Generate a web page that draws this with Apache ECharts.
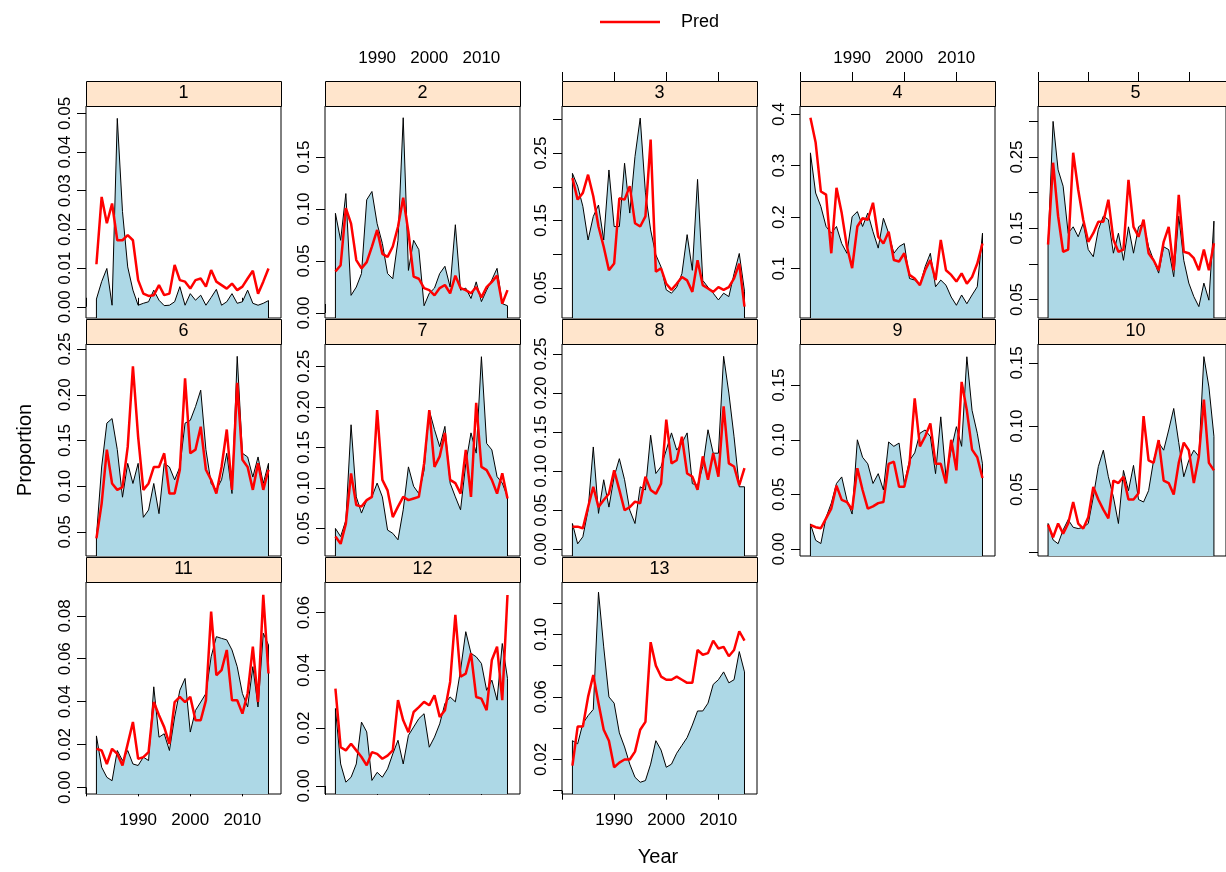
<!DOCTYPE html>
<html>
<head>
<meta charset="utf-8">
<script src="https://cdn.jsdelivr.net/npm/echarts@6/dist/echarts.min.js"></script>
<style>
  html, body { margin: 0; padding: 0; background: #fff; }
  #main { width: 1226px; height: 872px; }
</style>
</head>
<body>
<div id="main"></div>
<script>
var years = [1982, 1983, 1984, 1985, 1986, 1987, 1988, 1989, 1990, 1991, 1992, 1993, 1994, 1995, 1996, 1997, 1998,
  1999, 2000, 2001, 2002, 2003, 2004, 2005, 2006, 2007, 2008, 2009, 2010, 2011, 2012, 2013, 2014, 2015];

var xTicks = [1980, 1990, 2000, 2010];
var xLabels = [1990, 2000, 2010];

// observed proportion (filled) and predicted (red) per panel
var obs1 = [0.002, 0.0065, 0.0099, 0.0004, 0.0487, 0.0246, 0.0103, 0.0043, 0.0004, 0.0009, 0.0013, 0.0043, 0.0017, 0.0003, 0.0004, 0.0013, 0.0052, 0.0004, 0.0034, 0.0017, 0.003, 0.0004, 0.0024, 0.0045, 0.0004, 0.0013, 0.0034, 0.0009, 0.0013, 0.0043, 0.0009, 0.0004, 0.0009, 0.0016];
var pred1 = [0.011, 0.0284, 0.0216, 0.0267, 0.0172, 0.0172, 0.0185, 0.0172, 0.0069, 0.0034, 0.0028, 0.003, 0.0056, 0.003, 0.0034, 0.0108, 0.0069, 0.0065, 0.0047, 0.0069, 0.0073, 0.0052, 0.0095, 0.0065, 0.0056, 0.0047, 0.006, 0.0043, 0.0052, 0.0073, 0.0093, 0.0034, 0.0065, 0.0099];
var obs2 = [0.096, 0.070, 0.115, 0.017, 0.025, 0.038, 0.109, 0.117, 0.086, 0.067, 0.038, 0.033, 0.070, 0.188, 0.041, 0.070, 0.061, 0.007, 0.019, 0.024, 0.038, 0.045, 0.025, 0.085, 0.022, 0.024, 0.014, 0.030, 0.011, 0.022, 0.032, 0.043, 0.009, 0.007];
var pred2 = [0.040, 0.046, 0.101, 0.086, 0.051, 0.043, 0.049, 0.064, 0.080, 0.057, 0.054, 0.064, 0.083, 0.111, 0.078, 0.035, 0.033, 0.024, 0.022, 0.017, 0.024, 0.027, 0.019, 0.036, 0.024, 0.022, 0.019, 0.025, 0.015, 0.025, 0.030, 0.036, 0.009, 0.022];
var obs3 = [0.220, 0.201, 0.171, 0.121, 0.156, 0.173, 0.121, 0.225, 0.141, 0.141, 0.235, 0.161, 0.245, 0.302, 0.191, 0.136, 0.099, 0.081, 0.047, 0.042, 0.051, 0.071, 0.129, 0.076, 0.211, 0.061, 0.051, 0.042, 0.032, 0.042, 0.037, 0.071, 0.101, 0.045];
var pred3 = [0.213, 0.181, 0.191, 0.218, 0.186, 0.141, 0.111, 0.076, 0.086, 0.183, 0.181, 0.201, 0.146, 0.141, 0.156, 0.270, 0.074, 0.079, 0.056, 0.047, 0.056, 0.066, 0.061, 0.044, 0.091, 0.054, 0.049, 0.044, 0.051, 0.047, 0.051, 0.064, 0.086, 0.022];
var obs4 = [0.325, 0.247, 0.221, 0.182, 0.169, 0.182, 0.149, 0.130, 0.201, 0.211, 0.182, 0.208, 0.172, 0.140, 0.198, 0.169, 0.130, 0.143, 0.149, 0.081, 0.078, 0.068, 0.104, 0.130, 0.065, 0.078, 0.068, 0.045, 0.029, 0.049, 0.032, 0.049, 0.065, 0.169];
var pred4 = [0.393, 0.345, 0.250, 0.244, 0.130, 0.257, 0.208, 0.143, 0.101, 0.182, 0.198, 0.195, 0.228, 0.162, 0.149, 0.172, 0.117, 0.114, 0.130, 0.088, 0.081, 0.068, 0.097, 0.117, 0.078, 0.156, 0.097, 0.088, 0.075, 0.091, 0.071, 0.084, 0.110, 0.149];
var obs5 = [0.127, 0.300, 0.232, 0.209, 0.143, 0.152, 0.138, 0.157, 0.120, 0.110, 0.148, 0.167, 0.162, 0.115, 0.143, 0.105, 0.152, 0.115, 0.152, 0.157, 0.124, 0.105, 0.087, 0.124, 0.120, 0.082, 0.167, 0.105, 0.073, 0.054, 0.040, 0.073, 0.049, 0.160];
var pred5 = [0.127, 0.242, 0.167, 0.117, 0.120, 0.256, 0.204, 0.162, 0.131, 0.143, 0.159, 0.159, 0.190, 0.134, 0.117, 0.120, 0.218, 0.152, 0.138, 0.162, 0.115, 0.105, 0.091, 0.131, 0.152, 0.091, 0.197, 0.117, 0.115, 0.108, 0.091, 0.120, 0.091, 0.129];
var obs6 = [0.045, 0.121, 0.169, 0.174, 0.140, 0.088, 0.125, 0.103, 0.125, 0.066, 0.074, 0.103, 0.070, 0.125, 0.121, 0.107, 0.121, 0.169, 0.172, 0.187, 0.205, 0.140, 0.103, 0.096, 0.107, 0.136, 0.092, 0.242, 0.136, 0.132, 0.110, 0.132, 0.103, 0.125];
var pred6 = [0.043, 0.081, 0.140, 0.103, 0.096, 0.099, 0.143, 0.231, 0.154, 0.096, 0.103, 0.121, 0.121, 0.136, 0.092, 0.092, 0.118, 0.218, 0.136, 0.140, 0.165, 0.118, 0.107, 0.092, 0.121, 0.162, 0.096, 0.213, 0.129, 0.121, 0.096, 0.125, 0.096, 0.118];
var obs7 = [0.050, 0.040, 0.060, 0.178, 0.089, 0.069, 0.085, 0.089, 0.106, 0.089, 0.048, 0.044, 0.036, 0.073, 0.126, 0.102, 0.093, 0.122, 0.196, 0.172, 0.151, 0.176, 0.106, 0.089, 0.073, 0.130, 0.168, 0.143, 0.262, 0.155, 0.147, 0.114, 0.106, 0.089];
var pred7 = [0.040, 0.031, 0.056, 0.118, 0.079, 0.077, 0.085, 0.089, 0.196, 0.110, 0.097, 0.064, 0.077, 0.089, 0.085, 0.087, 0.089, 0.130, 0.196, 0.126, 0.139, 0.168, 0.110, 0.106, 0.093, 0.147, 0.089, 0.205, 0.126, 0.122, 0.110, 0.093, 0.118, 0.087];
var obs8 = [0.033, 0.007, 0.016, 0.050, 0.131, 0.046, 0.089, 0.054, 0.093, 0.116, 0.089, 0.050, 0.033, 0.080, 0.076, 0.146, 0.097, 0.106, 0.127, 0.149, 0.127, 0.136, 0.149, 0.084, 0.082, 0.106, 0.153, 0.123, 0.123, 0.247, 0.200, 0.144, 0.080, 0.080];
var pred8 = [0.029, 0.029, 0.027, 0.054, 0.080, 0.054, 0.063, 0.071, 0.101, 0.076, 0.050, 0.054, 0.061, 0.059, 0.093, 0.076, 0.071, 0.084, 0.166, 0.110, 0.114, 0.144, 0.097, 0.093, 0.076, 0.119, 0.089, 0.123, 0.093, 0.183, 0.110, 0.106, 0.082, 0.104];
var obs9 = [0.023, 0.008, 0.005, 0.029, 0.042, 0.060, 0.066, 0.045, 0.032, 0.100, 0.084, 0.078, 0.060, 0.069, 0.054, 0.098, 0.094, 0.097, 0.060, 0.081, 0.088, 0.106, 0.109, 0.103, 0.069, 0.121, 0.066, 0.091, 0.112, 0.094, 0.176, 0.127, 0.106, 0.078];
var pred9 = [0.022, 0.020, 0.019, 0.028, 0.037, 0.058, 0.045, 0.043, 0.036, 0.074, 0.054, 0.037, 0.039, 0.042, 0.043, 0.078, 0.080, 0.057, 0.057, 0.078, 0.138, 0.094, 0.103, 0.115, 0.078, 0.078, 0.060, 0.100, 0.072, 0.153, 0.127, 0.091, 0.084, 0.065];
var obs10 = [0.023, 0.010, 0.007, 0.018, 0.026, 0.020, 0.019, 0.020, 0.023, 0.044, 0.068, 0.081, 0.060, 0.044, 0.023, 0.065, 0.049, 0.069, 0.042, 0.040, 0.049, 0.073, 0.087, 0.081, 0.097, 0.114, 0.087, 0.060, 0.073, 0.081, 0.076, 0.155, 0.131, 0.092];
var pred10 = [0.022, 0.012, 0.023, 0.015, 0.023, 0.040, 0.023, 0.019, 0.028, 0.052, 0.042, 0.034, 0.027, 0.057, 0.055, 0.060, 0.042, 0.042, 0.047, 0.108, 0.073, 0.071, 0.089, 0.057, 0.055, 0.046, 0.071, 0.087, 0.081, 0.055, 0.076, 0.121, 0.071, 0.065];
var obs11 = [0.024, 0.0094, 0.0047, 0.0031, 0.0172, 0.0125, 0.0172, 0.0109, 0.0102, 0.0141, 0.0125, 0.0469, 0.0234, 0.025, 0.0172, 0.0328, 0.0453, 0.0508, 0.0258, 0.0359, 0.0398, 0.0438, 0.0609, 0.0703, 0.0695, 0.0688, 0.0641, 0.0563, 0.0438, 0.0375, 0.0563, 0.0375, 0.0719, 0.0664];
var pred11 = [0.018, 0.0172, 0.0109, 0.018, 0.0156, 0.0102, 0.0203, 0.0305, 0.0133, 0.0141, 0.0164, 0.0398, 0.0336, 0.0281, 0.0203, 0.0398, 0.0422, 0.0398, 0.0422, 0.0313, 0.0313, 0.0406, 0.082, 0.0523, 0.0547, 0.0641, 0.0406, 0.0406, 0.0344, 0.0438, 0.0656, 0.0398, 0.0898, 0.0531];
var obs12 = [0.0268, 0.0076, 0.0013, 0.003, 0.0076, 0.0221, 0.0187, 0.0019, 0.0047, 0.003, 0.0059, 0.0111, 0.0158, 0.0076, 0.0175, 0.0204, 0.0233, 0.025, 0.0134, 0.0169, 0.0215, 0.0285, 0.0308, 0.0291, 0.0401, 0.0534, 0.0459, 0.0447, 0.0424, 0.0331, 0.0366, 0.0297, 0.0493, 0.0372];
var pred12 = [0.0337, 0.0134, 0.0123, 0.0146, 0.0123, 0.01, 0.0071, 0.0117, 0.0111, 0.0094, 0.0105, 0.0123, 0.0297, 0.0227, 0.0186, 0.0256, 0.0273, 0.0291, 0.0279, 0.0314, 0.0239, 0.0262, 0.036, 0.0592, 0.0378, 0.0389, 0.0459, 0.0308, 0.0302, 0.0262, 0.0436, 0.0482, 0.0297, 0.0661];
var obs13 = [0.032, 0.030, 0.043, 0.048, 0.052, 0.127, 0.092, 0.060, 0.056, 0.037, 0.028, 0.017, 0.0086, 0.0054, 0.0065, 0.017, 0.032, 0.026, 0.015, 0.017, 0.024, 0.029, 0.034, 0.042, 0.051, 0.051, 0.056, 0.068, 0.071, 0.076, 0.069, 0.071, 0.089, 0.076];
var pred13 = [0.016, 0.041, 0.041, 0.060, 0.074, 0.056, 0.039, 0.032, 0.015, 0.018, 0.020, 0.020, 0.025, 0.039, 0.044, 0.095, 0.080, 0.073, 0.071, 0.071, 0.073, 0.071, 0.069, 0.069, 0.090, 0.087, 0.088, 0.096, 0.091, 0.092, 0.086, 0.090, 0.102, 0.096];

// y tick positions and the labels that are printed
var yTicks1 = [0, 0.01, 0.02, 0.03, 0.04, 0.05], yLabels1 = yTicks1;
var yTicks2 = [0, 0.05, 0.10, 0.15], yLabels2 = yTicks2;
var yTicks3 = [0.05, 0.10, 0.15, 0.20, 0.25, 0.30], yLabels3 = [0.05, 0.15, 0.25];
var yTicks4 = [0.1, 0.2, 0.3, 0.4], yLabels4 = yTicks4;
var yTicks5 = [0.05, 0.10, 0.15, 0.20, 0.25, 0.30], yLabels5 = [0.05, 0.15, 0.25];
var yTicks6 = [0.05, 0.10, 0.15, 0.20, 0.25], yLabels6 = yTicks6;
var yTicks7 = [0.05, 0.10, 0.15, 0.20, 0.25], yLabels7 = yTicks7;
var yTicks8 = [0, 0.05, 0.10, 0.15, 0.20, 0.25], yLabels8 = yTicks8;
var yTicks9 = [0, 0.05, 0.10, 0.15], yLabels9 = yTicks9;
var yTicks10 = [0, 0.05, 0.10, 0.15], yLabels10 = [0.05, 0.10, 0.15];
var yTicks11 = [0, 0.02, 0.04, 0.06, 0.08], yLabels11 = yTicks11;
var yTicks12 = [0, 0.02, 0.04, 0.06], yLabels12 = yTicks12;
var yTicks13 = [0, 0.02, 0.04, 0.06, 0.08, 0.10, 0.12], yLabels13 = [0.02, 0.06, 0.10];

var panels = [
  { obs: obs1, pred: pred1, ticks: yTicks1, labels: yLabels1, min: -0.0029, max: 0.0519, dec: 2 },
  { obs: obs2, pred: pred2, ticks: yTicks2, labels: yLabels2, min: -0.0048, max: 0.1993, dec: 2 },
  { obs: obs3, pred: pred3, ticks: yTicks3, labels: yLabels3, min: 0.0052, max: 0.320, dec: 2 },
  { obs: obs4, pred: pred4, ticks: yTicks4, labels: yLabels4, min: 0.0043, max: 0.416, dec: 1 },
  { obs: obs5, pred: pred5, ticks: yTicks5, labels: yLabels5, min: 0.024, max: 0.3216, dec: 2 },
  { obs: obs6, pred: pred6, ticks: yTicks6, labels: yLabels6, min: 0.0237, max: 0.2555, dec: 2 },
  { obs: obs7, pred: pred7, ticks: yTicks7, labels: yLabels7, min: 0.016, max: 0.2777, dec: 2 },
  { obs: obs8, pred: pred8, ticks: yTicks8, labels: yLabels8, min: -0.0086, max: 0.2628, dec: 2 },
  { obs: obs9, pred: pred9, ticks: yTicks9, labels: yLabels9, min: -0.0064, max: 0.1877, dec: 2 },
  { obs: obs10, pred: pred10, ticks: yTicks10, labels: yLabels10, min: -0.0027, max: 0.165, dec: 2 },
  { obs: obs11, pred: pred11, ticks: yTicks11, labels: yLabels11, min: -0.0031, max: 0.0958, dec: 2 },
  { obs: obs12, pred: pred12, ticks: yTicks12, labels: yLabels12, min: -0.0028, max: 0.0706, dec: 2 },
  { obs: obs13, pred: pred13, ticks: yTicks13, labels: yLabels13, min: -0.0021, max: 0.1335, dec: 2 }
];

var FONT = 'Liberation Sans, Arial, sans-serif';
var colLeft = [86, 325, 562, 800, 1038];
var rowTop = [106, 344, 582];
var W = 195, H = 212, STRIP = 25;

var grids = [], xAxes = [], yAxes = [], series = [], graphics = [];

panels.forEach(function (p, i) {
  var col = i % 5, row = Math.floor(i / 5);
  var left = colLeft[col], top = rowTop[row];
  var hasTop = row === 0, hasBottom = row === 2;
  var xLab = hasTop ? col % 2 === 1 : col % 2 === 0;

  grids.push({ left: left, top: top, width: W, height: H, show: true,
    borderColor: '#000', borderWidth: 1, backgroundColor: '#fff' });

  xAxes.push({
    type: 'value', gridIndex: i, min: 1980, max: 2017.4,
    show: hasTop || hasBottom,
    position: hasTop ? 'top' : 'bottom',
    offset: hasTop ? STRIP : 0,
    axisLine: { show: false },
    splitLine: { show: false },
    axisTick: { show: true, length: 9, lineStyle: { color: '#000' }, customValues: xTicks },
    axisLabel: { show: xLab, customValues: xLabels, margin: hasTop ? 14 : 18,
      color: '#000', fontSize: 17, fontFamily: FONT,
      formatter: function (v) { return String(v); } }
  });

  yAxes.push({
    type: 'value', gridIndex: i, min: p.min, max: p.max, position: 'left',
    axisLine: { show: false },
    splitLine: { show: false },
    axisTick: { show: true, length: 9, lineStyle: { color: '#000' }, customValues: p.ticks },
    axisLabel: { rotate: 90, margin: 12, customValues: p.labels, color: '#000', fontSize: 17,
      fontFamily: FONT, formatter: function (v) { return Number(v).toFixed(p.dec); } }
  });

  var area = years.map(function (y, k) { return [y, p.obs[k]]; });
  area.unshift([years[0], p.min]);
  area.push([years[years.length - 1], p.min]);

  series.push({
    name: 'Obs', type: 'line', xAxisIndex: i, yAxisIndex: i, data: area,
    symbol: 'none', silent: true,
    lineStyle: { color: '#000', width: 1 },
    areaStyle: { color: '#add8e6', opacity: 1, origin: 'start' },
    z: 2
  });
  series.push({
    name: 'Pred', type: 'line', xAxisIndex: i, yAxisIndex: i,
    data: years.map(function (y, k) { return [y, p.pred[k]]; }),
    symbol: 'none', silent: true,
    itemStyle: { color: '#ff0000' },
    lineStyle: { color: '#ff0000', width: 2.5 },
    z: 3
  });

  graphics.push({ type: 'rect', z: 10,
    shape: { x: left + 0.5, y: top - STRIP + 0.5, width: W, height: STRIP },
    style: { fill: '#ffe5cc', stroke: '#000', lineWidth: 1 } });
  graphics.push({ type: 'text', z: 11, x: left + W / 2, y: top - STRIP / 2,
    style: { text: String(i + 1), fontSize: 18, fontFamily: FONT, fill: '#000',
      align: 'center', verticalAlign: 'middle' } });
});

graphics.push({ type: 'text', x: 25, y: 450, rotation: Math.PI / 2,
  style: { text: 'Proportion', fontSize: 20, fontFamily: FONT, fill: '#000',
    align: 'center', verticalAlign: 'middle' } });
graphics.push({ type: 'text', x: 658, y: 857,
  style: { text: 'Year', fontSize: 20, fontFamily: FONT, fill: '#000',
    align: 'center', verticalAlign: 'middle' } });

var myChart = echarts.init(document.getElementById('main'));
myChart.setOption({
  animation: false,
  backgroundColor: '#fff',
  legend: {
    data: ['Pred'], top: 8, left: 595, icon: 'rect', itemWidth: 60, itemHeight: 2.5, itemGap: 0,
    textStyle: { fontSize: 18, fontFamily: FONT, color: '#000', padding: [0, 0, 0, 16] }
  },
  grid: grids,
  xAxis: xAxes,
  yAxis: yAxes,
  series: series,
  graphic: graphics
});
</script>
</body>
</html>
